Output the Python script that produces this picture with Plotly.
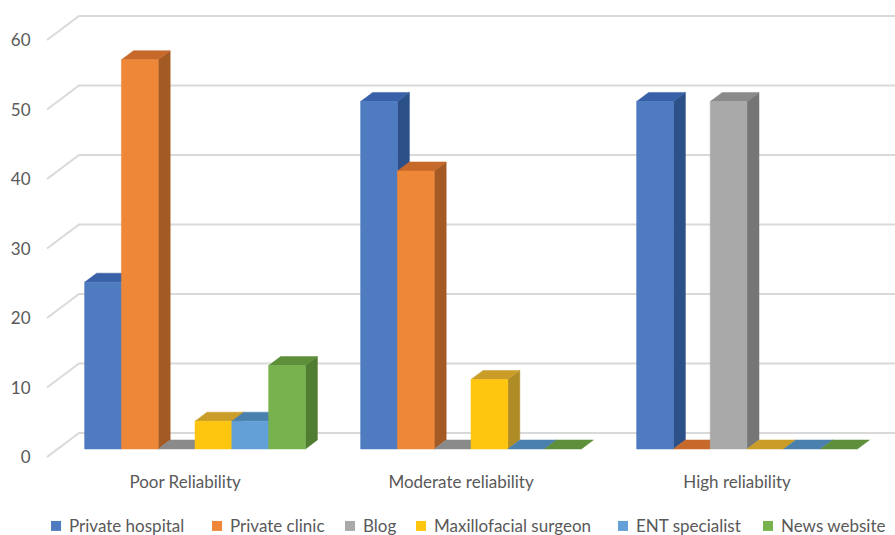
import plotly.graph_objects as go

# Share of websites by reliability level and source type (%)
categories = ["Poor Reliability", "Moderate reliability", "High reliability"]
series_names = ["Private hospital", "Private clinic", "Blog",
                "Maxillofacial surgeon", "ENT specialist", "News website"]
private_hospital = [24, 50, 50]
private_clinic = [56, 40, 0]
blog = [0, 0, 50]
maxillofacial_surgeon = [4, 10, 0]
ent_specialist = [4, 0, 0]
news_website = [12, 0, 0]
y_ticks = [0, 10, 20, 30, 40, 50, 60]

series_values = [private_hospital, private_clinic, blog,
                 maxillofacial_surgeon, ent_specialist, news_website]

# front / top / side face colours per series
front_colors = ["#4F7BC1", "#EE8838", "#A9A9A9", "#FEC60E", "#64A0D8", "#78B24F"]
top_colors = ["#3861A7", "#C7692A", "#8A8A8A", "#C99D28", "#4A80AD", "#5E8F3B"]
side_colors = ["#2C5189", "#A35A25", "#767676", "#B08C26", "#3E6F9A", "#507D32"]

# oblique-projection geometry (x in category units, y in value units)
group_width = 0.8
bar_w = group_width / len(series_names)
depth_dx = 0.0435
depth_dy = 1.3
wall_x = -0.4203
front_x = -0.5362
wall_dy = 2.3
front_dy = -1.15
grid_color = "#D9D9D9"
text_color = "#595959"
font_family = "Lato, 'Open Sans', sans-serif"

# legend layout (paper coordinates, below the plot area)
legend_x = [0.0071, 0.1965, 0.3529, 0.4365, 0.6741, 0.8447]
legend_y = -0.119
legend_box = 0.0118

fig = go.Figure()

# back-wall gridlines with their diagonal side-wall segments
for v in y_ticks:
    fig.add_trace(go.Scatter(
        x=[front_x, wall_x, 2.6], y=[v + front_dy, v + wall_dy, v + wall_dy],
        mode="lines", line=dict(color=grid_color, width=2),
        hoverinfo="skip", showlegend=False))


def poly(xs, ys, color):
    fig.add_trace(go.Scatter(
        x=xs + [xs[0]], y=ys + [ys[0]], mode="lines", fill="toself",
        fillcolor=color, line=dict(color=color, width=0.5),
        hoverinfo="skip", showlegend=False))


# bars drawn left to right so each front face hides its left neighbour's side
for i, cat in enumerate(categories):
    for j, vals in enumerate(series_values):
        v = vals[i]
        x0 = i - group_width / 2 + j * bar_w
        x1 = x0 + bar_w
        # side face
        if v > 0:
            poly([x1, x1, x1 + depth_dx, x1 + depth_dx],
                 [0, v, v + depth_dy, depth_dy], side_colors[j])
        # top face
        poly([x0, x1, x1 + depth_dx, x0 + depth_dx],
             [v, v, v + depth_dy, v + depth_dy], top_colors[j])
        # front face
        if v > 0:
            fig.add_trace(go.Scatter(
                x=[x0, x1, x1, x0, x0], y=[0, 0, v, v, 0], mode="lines",
                fill="toself", fillcolor=front_colors[j],
                line=dict(color=front_colors[j], width=0.5),
                name=series_names[j],
                hovertemplate=f"{cat}<br>{series_names[j]}: {v}<extra></extra>",
                showlegend=False))

# legend: colour keys and labels
for j, name in enumerate(series_names):
    fig.add_shape(type="rect", xref="paper", yref="paper",
                  x0=legend_x[j], x1=legend_x[j] + legend_box,
                  y0=legend_y - 0.0106, y1=legend_y + 0.0106,
                  fillcolor=front_colors[j], line=dict(width=0))
    fig.add_annotation(xref="paper", yref="paper", x=legend_x[j] + 0.019,
                       y=legend_y, text=name, showarrow=False,
                       xanchor="left", yanchor="middle",
                       font=dict(size=17, color=text_color))

fig.update_layout(
    width=895, height=535,
    margin=dict(l=45, r=0, t=0, b=65),
    plot_bgcolor="white", paper_bgcolor="white",
    font=dict(family=font_family, color=text_color, size=17),
    xaxis=dict(range=[-0.5435, 2.5362], showgrid=False, zeroline=False,
               showline=False, tickvals=[i - 0.036 for i in range(len(categories))],
               ticktext=categories, ticks="", fixedrange=True, automargin=False,
               tickfont=dict(size=17, color=text_color)),
    yaxis=dict(range=[-3.02, 64.6], showgrid=False, zeroline=False,
               showline=False, tickvals=[v - 1.2 for v in y_ticks],
               ticktext=[str(v) for v in y_ticks], ticks="outside", ticklen=10,
               tickcolor="rgba(0,0,0,0)", fixedrange=True, automargin=False,
               tickfont=dict(size=17, color=text_color)),
    showlegend=False,
)

fig.write_html("out.html")
